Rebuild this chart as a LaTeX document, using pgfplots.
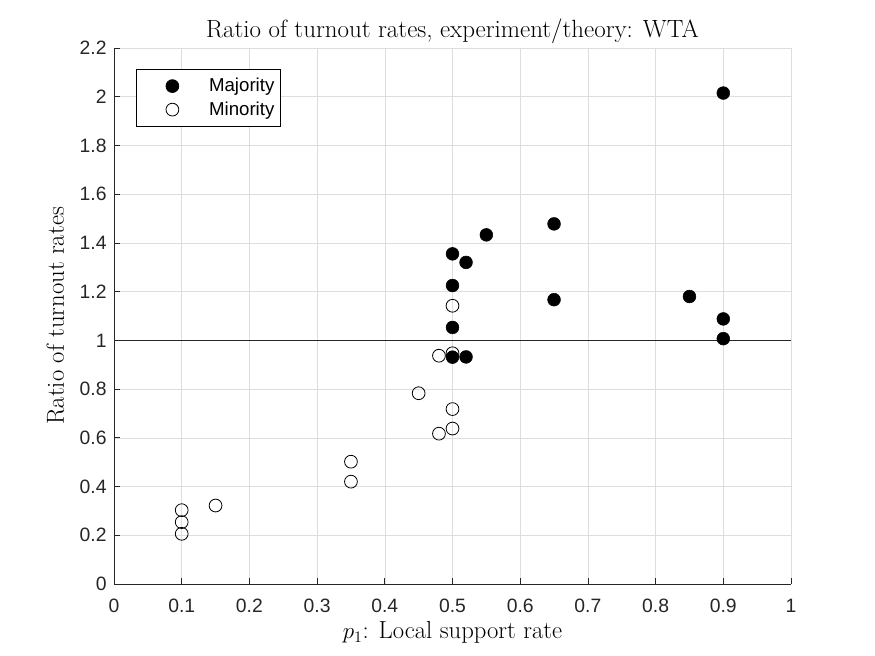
\documentclass[border=0pt]{standalone}
\usepackage{fontspec}
\setsansfont{Liberation Sans}
\usepackage{pgfplots}
\pgfplotsset{compat=1.18}
\definecolor{axgray}{rgb}{0.15,0.15,0.15}
\begin{document}
\begin{tikzpicture}
\useasboundingbox (0,0) rectangle (656.25pt,492pt);
\begin{axis}[
  anchor=origin, at={(85.5pt,54pt)},
  scale only axis, width=507.75pt, height=402pt,
  xmin=0, xmax=1, ymin=0, ymax=2.2,
  xtick={0,0.1,...,1.0}, ytick={0,0.2,...,2.2},
  xticklabels={0,0.1,0.2,0.3,0.4,0.5,0.6,0.7,0.8,0.9,1},
  yticklabels={0,0.2,0.4,0.6,0.8,1,1.2,1.4,1.6,1.8,2,2.2},
  axis lines*=left,
  axis line style={axgray, line width=0.6pt, -},
  tick style={axgray, line width=0.6pt},
  tick align=inside, major tick length=4.5pt,
  grid=major, grid style={black!13, line width=0.4pt},
  ticklabel style={font=\sffamily\fontsize{14.5}{17}\selectfont, text=axgray},
  xticklabel style={anchor=base, yshift=-21.75pt},
  yticklabel style={anchor=east, xshift=-2pt},
  /pgf/number format/assume math mode=true,
  xlabel={$p_1$: Local support rate},
  ylabel={Ratio of turnout rates},
  label style={font=\fontsize{18.5}{22}\selectfont},
  xlabel style={at={(axis description cs:0.5,-0.1026)}, anchor=base},
  ylabel style={at={(axis description cs:-0.0867,0.5)}, anchor=center},
  title={Ratio of turnout rates, experiment/theory: WTA},
  title style={font=\fontsize{18.7}{22}\selectfont, at={(axis description cs:0.5,1.005)}, anchor=base},
  legend style={at={(0.0325,0.9608)}, anchor=north west, draw=black, line width=0.6pt,
    font=\sffamily\fontsize{14}{16}\selectfont, inner xsep=0pt, inner ysep=5.2pt,
    nodes={inner xsep=4.5pt, inner ysep=1.5pt},
    row sep=3pt, cells={anchor=west}},
  legend cell align=left,
  legend image code/.code={\path[draw=none, fill=none] (0pt,-1pt) rectangle (50pt,1pt);
    \draw[#1] plot coordinates {(27pt,0pt)};},
]
\addplot[only marks, mark=*, mark size=4.8pt, draw=black, fill=black] coordinates {
(0.9,2.015) (0.65,1.478) (0.55,1.433) (0.5,1.355) (0.52,1.32) (0.5,1.225)
(0.65,1.167) (0.85,1.18) (0.9,1.088) (0.9,1.007) (0.5,1.053) (0.5,0.931) (0.52,0.932)
};
\addlegendentry{Majority}
\addplot[only marks, mark=o, mark size=4.8pt, draw=black, line width=0.6pt, fill=white,
  mark options={fill=white}] coordinates {
(0.5,1.142) (0.48,0.937) (0.5,0.947) (0.45,0.783) (0.5,0.718) (0.48,0.617)
(0.5,0.638) (0.35,0.502) (0.35,0.42) (0.15,0.322) (0.1,0.303) (0.1,0.254) (0.1,0.206)
};
\addlegendentry{Minority}
\addplot[black!85, line width=0.75pt, forget plot] coordinates {(0,1) (1,1)};
\end{axis}
\end{tikzpicture}
\end{document}
